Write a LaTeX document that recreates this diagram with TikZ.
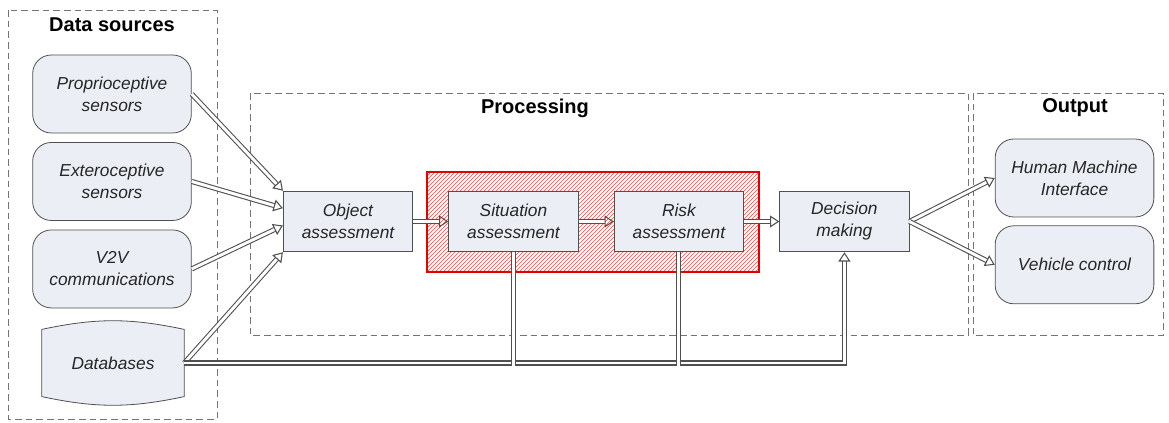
\documentclass[tikz,border=0pt]{standalone}
\usepackage{fontspec}
\setmainfont{Liberation Sans}
\usetikzlibrary{arrows.meta,patterns,positioning,backgrounds}
\definecolor{boxfill}{HTML}{EBEEF5}
\definecolor{boxline}{HTML}{505050}
\definecolor{frameline}{HTML}{747474}
\definecolor{riskred}{HTML}{E30000}
\begin{document}
\begin{tikzpicture}[x=0.75pt,y=-0.75pt,
  lbl/.style={font=\fontsize{13}{16.5}\selectfont\itshape,text=black!85,align=center},
  src/.style={lbl,draw=boxline,fill=boxfill,line width=0.6pt,rounded corners=14pt,minimum width=119pt,minimum height=58.5pt},
  proc/.style={lbl,draw=boxline,fill=boxfill,line width=0.6pt,minimum width=97pt,minimum height=45.5pt},
  frame/.style={draw=frameline,line width=0.7pt,dash pattern=on 5pt off 3pt},
  title/.style={font=\fontsize{15}{18}\selectfont\bfseries},
  flow/.style={draw=boxline,line width=0.8pt,double=white,double distance=2.2pt,-{Triangle[open,length=7pt,width=9pt]}},
  bus/.style={flow,-}]
\useasboundingbox (0,0) rectangle (1169,423);

% dashed groups
\draw[frame] (8,10) rectangle (217,419);
\draw[frame] (250,93) rectangle (968,335);
\draw[frame] (973,93) rectangle (1163,335);
\node[title] (srctitle) at (112,25) {Data sources};
\node[title] (proctitle) at (535,108) {Processing};
\node[title] (outtitle) at (1075,108) {Output};

% hatched area
\draw[draw=riskred,line width=2.2pt,pattern=north east lines,pattern color=riskred!70] (427,172) rectangle (759,272);

% sources
\node[src] (prop) at (112,94) {Proprioceptive\\sensors};
\node[src,below=6.5pt of prop] (ext) {Exteroceptive\\sensors};
\node[src,below=6.5pt of ext] (vtv) {V2V\\communications};
\node[lbl,minimum width=106.5pt,minimum height=50pt] (db) at (113,363) {Databases};
\begin{scope}[on background layer]
\draw[draw=boxline,fill=boxfill,line width=0.6pt] (db.north west) to[bend left=12] (db.north east)
  -- (db.south east) to[bend left=12] (db.south west) -- cycle;
\end{scope}

% processing chain
\node[proc] (obj) at (348,221.5) {Object\\assessment};
\node[proc,right=26.5pt of obj] (sit) {Situation\\assessment};
\node[proc,right=26.5pt of sit] (risk) {Risk\\assessment};
\node[proc,right=26.5pt of risk] (dec) {Decision\\making};

% outputs
\node[src] (hmi) at (1074.5,178) {Human Machine\\Interface};
\node[src,below=6pt of hmi] (veh) {Vehicle control};

% connectors
\draw[flow] (prop.east) -- (obj.north west);
\draw[flow] (ext.east) -- ([yshift=10pt]obj.west);
\draw[flow] (vtv.east) -- ([yshift=-3pt]obj.west);
\draw[flow] (db.east) -- (obj.south west);
\draw[flow] (obj) -- (sit);
\draw[flow] (sit) -- (risk);
\draw[flow] (risk) -- (dec);
\draw[flow] (dec.east) -- (hmi.west);
\draw[flow] (dec.east) -- (veh.west);

\coordinate (busend) at ([yshift=-1.9pt]db.east);
\draw[flow] (db.east) -- (dec.south |- db.east) -- (dec.south);
\draw[bus] (sit.south) -- (sit.south |- busend);
\draw[bus] (risk.south) -- (risk.south |- busend);

\end{tikzpicture}
\end{document}
